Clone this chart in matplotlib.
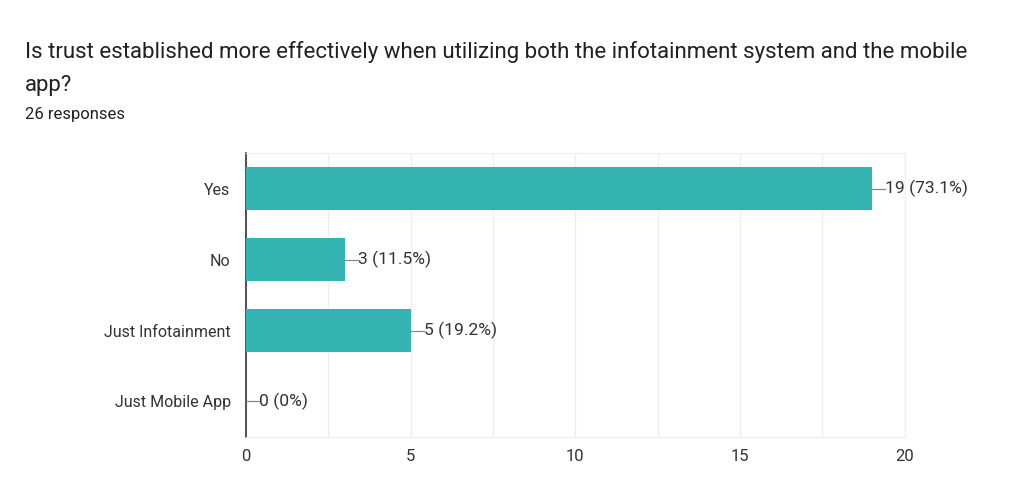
import numpy as np
import matplotlib.pyplot as plt

plt.rcParams['font.family'] = ['Roboto', 'DejaVu Sans']

TITLE_LINES = ['Is trust established more effectively when utilizing both the infotainment system and the mobile',
               'app?']
SUBTITLE = '26 responses'
CATEGORIES = ['Yes', 'No', 'Just Infotainment', 'Just Mobile App']
COUNTS = [19, 3, 5, 0]
TOTAL = 26
BAR_COLOR = '#35b3b0'
TEXT_COLOR = '#333333'


def pct_label(n, total):
    p = 100 * n / total
    if n == 0:
        return '0 (0%)'
    return f'{n} ({p:.1f}%)'


def main():
    fig = plt.figure(figsize=(10.12, 5.04), dpi=100)
    ax = fig.add_axes([0.243, 0.133, 0.651, 0.563])

    ypos = np.arange(len(CATEGORIES))
    ax.barh(ypos, COUNTS, height=0.6, color=BAR_COLOR, zorder=3)

    for y, n in zip(ypos, COUNTS):
        ax.plot([n, n + 0.4], [y, y], color='#888888', lw=0.9, zorder=4)
        ax.text(n + 0.4, y, pct_label(n, TOTAL), va='center', ha='left',
                fontsize=12.6, color=TEXT_COLOR)

    ax.set_xlim(0, 20)
    ax.set_ylim(len(CATEGORIES) - 0.5, -0.5)
    ax.set_yticks(ypos)
    ax.set_yticklabels(CATEGORIES)
    ax.set_xticks([0, 5, 10, 15, 20])
    ax.set_xticks(np.arange(0, 20.1, 2.5), minor=True)
    ax.grid(axis='x', which='both', color='#eeeeee', lw=1, zorder=0)
    ax.tick_params(axis='both', length=0, labelsize=11.5, labelcolor=TEXT_COLOR, pad=11)
    ax.tick_params(axis='x', labelsize=12, pad=9)
    ax.tick_params(which='minor', length=0)

    for side in ['top', 'right', 'bottom']:
        ax.spines[side].set_color('#eeeeee')
    ax.spines['left'].set_color('#333333')
    ax.spines['left'].set_linewidth(1.2)

    fig.text(0.025, 1 - 52 / 504, TITLE_LINES[0], fontsize=16, color='#202124', va='center')
    fig.text(0.025, 1 - 85 / 504, TITLE_LINES[1], fontsize=16, color='#202124', va='center')
    fig.text(0.025, 1 - 114 / 504, SUBTITLE, fontsize=12, color='#202124', va='center')

    fig.savefig('out.png', dpi=100)


if __name__ == '__main__':
    main()
